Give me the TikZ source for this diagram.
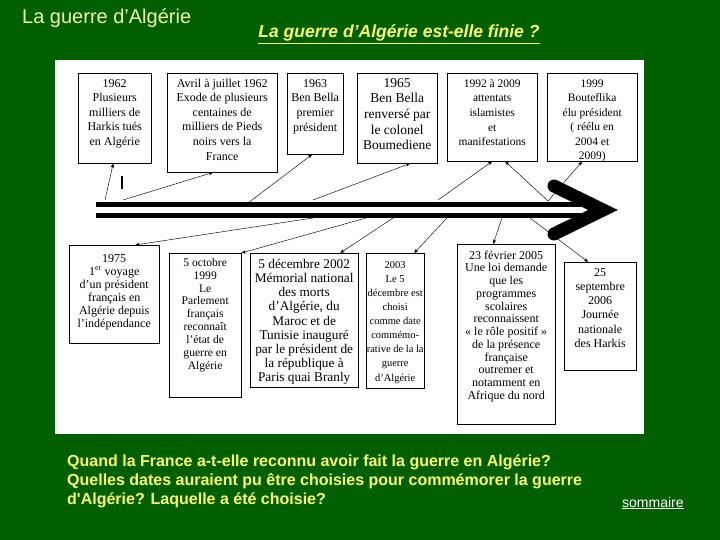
\documentclass[tikz,border=0pt]{standalone}
\usepackage{fontspec}
\setmainfont{Liberation Serif}
\newfontfamily\arialx{Liberation Sans}
\usetikzlibrary{arrows.meta}
\definecolor{greenbg}{HTML}{006000}
\definecolor{yellowx}{HTML}{FFFF66}
\definecolor{paleyel}{HTML}{F2F7A0}
\tikzset{
  evt/.style={draw=black,thin,fill=white,inner sep=0pt,anchor=north west},
  lk/.style={-{Stealth[length=4.5pt,width=3.5pt]},line width=0.45pt,black},
  bar/.style={line width=5.5pt,black}
}
\newcommand{\fs}[2]{\fontsize{#1}{#2}\selectfont}
\newcommand{\cell}[4][14]{\parbox[c][#3pt][t]{#2pt}{\centering\rule{0pt}{#1pt}#4}}

\begin{document}
\begin{tikzpicture}[x=1pt,y=-1pt]
\fill[greenbg] (0,0) rectangle (720,540);
\useasboundingbox (0,0) rectangle (720,540);
\fill[white] (55,60) rectangle (644,434);
% titres
\node[anchor=base west,inner sep=0pt,text=paleyel,font=\arialx\fs{20}{24}] (titre) at (22,24) {La guerre d’Algérie};
\node[anchor=base,inner sep=0pt,text=yellowx,font=\arialx\bfseries\itshape\fs{17.5}{20}] (question) at (399,38) {\underline{La guerre d’Algérie est-elle finie ?}};
% evenements du haut
\node[evt,font=\fs{12}{14.5}] (b62) at (78,73) {\cell{73}{90}{1962\\Plusieurs\\milliers de\\Harkis tués\\en Algérie}};
\node[evt,font=\fs{12}{14.6}] (bavr) at (167,73) {\cell{110}{99}{Avril à juillet 1962\\Exode de plusieurs\\centaines de\\milliers de Pieds\\noirs vers la\\France}};
\node[evt,font=\fs{12}{14.7}] (b63) at (287,73) {\cell{56}{81}{1963\\Ben Bella\\premier\\président}};
\node[evt,font=\fs{13.5}{15.7}] (b65) at (357,73) {\cell{80}{90}{1965\\Ben Bella\\renversé par\\le colonel\\Boumediene}};
\node[evt,font=\fs{11.5}{14.7}] (b92) at (447,73) {\cell{90}{88}{1992 à 2009\\attentats\\islamistes\\et\\manifestations}};
\node[evt,font=\fs{11.5}{14.5}] (b99) at (547,73) {\cell{90}{88}{1999\\Bouteflika\\élu président\\( réélu en\\2004 et\\2009)}};
% evenements du bas
\node[evt,font=\fs{12}{13}] (b75) at (69,245) {\cell[17]{90}{98}{1975\\1\textsuperscript{er} voyage\\d'un président\\français en\\Algérie depuis\\l'indépendance}};
\node[evt,font=\fs{11.6}{12.9}] (b99o) at (169,253) {\cell[13]{72}{144}{5 octobre\\1999\\Le\\Parlement\\français\\reconnaît\\l'état de\\guerre en\\Algérie}};
\node[evt,font=\fs{13.3}{14.2}] (b02) at (250,253) {\cell[15]{108}{134}{5 décembre 2002\\Mémorial national\\des morts\\d'Algérie, du\\Maroc et de\\Tunisie inauguré\\par le président de\\la république à\\Paris quai Branly}};
\node[evt,font=\fs{10.5}{14.1}] (b03) at (366,253) {\cell[15]{58}{135}{2003\\Le 5\\décembre est\\choisi\\comme date\\commémo-\\rative de la la\\guerre\\d'Algérie}};
\node[evt,font=\fs{12}{12.75}] (b05) at (457,244) {\cell[15]{98}{180}{23 février 2005\\Une loi demande\\que les\\programmes\\scolaires\\reconnaissent\\«~le rôle positif~»\\de la présence\\française\\outremer et\\notamment en\\Afrique du nord}};
\node[evt,font=\fs{12}{14.2}] (b06) at (564,262) {\cell{72}{108}{25\\septembre\\2006\\Journée\\nationale\\des Harkis}};
% points de depart sur la frise
\coordinate (s62) at (105,200);
\coordinate (savr) at (123,200);
\coordinate (s63) at (248,203);
\coordinate (s65) at (313,200);
\coordinate (s92) at (438,200);
\coordinate (s99) at (548,201);
\coordinate (s75) at (313,218);
\coordinate (s99o) at (366,218);
\coordinate (s02) at (393,218);
\coordinate (s03) at (447,218);
\coordinate (s05) at (502,218);
\coordinate (s06) at (530,218);
\foreach \s/\t/\dx in {s62/b62.south/-1.5,savr/bavr.south/-9,s63/b63.south/-3,s65/b65.south/13,
  s92/b92.south/0,s99/b92.south/13,s99/b99.south/-10,s75/b75.north/21,s99o/b99o.north east/0,
  s02/b02.north/36,s03/b03.north/19,s05/b05.north/-13,s06/b06.north/-12}
  \draw[lk] (\s) -- ([xshift=\dx pt]\t);
% frise
\draw[bar] (96,204.5) -- (590,204.5);
\draw[bar] (96,215.5) -- (590,215.5);
\draw[line width=13pt,line cap=round,line join=miter] (554,186) -- (603,210) -- (554,234);
\draw[line width=2.2pt] (122,176) -- (122,189);
% questions
\node[anchor=base west,inner sep=0pt,text=yellowx,font=\arialx\bfseries\fs{16}{19},align=left] (qst) at (67,504) {Quand la France a-t-elle reconnu avoir fait la guerre en Algérie?\\Quelles dates auraient pu être choisies pour commémorer la guerre\\d'Algérie? Laquelle a été choisie?};
\node[anchor=base west,inner sep=0pt,text=white,font=\arialx\fs{14}{16}] (somm) at (622,507) {\underline{sommaire}};
\end{tikzpicture}
\end{document}
